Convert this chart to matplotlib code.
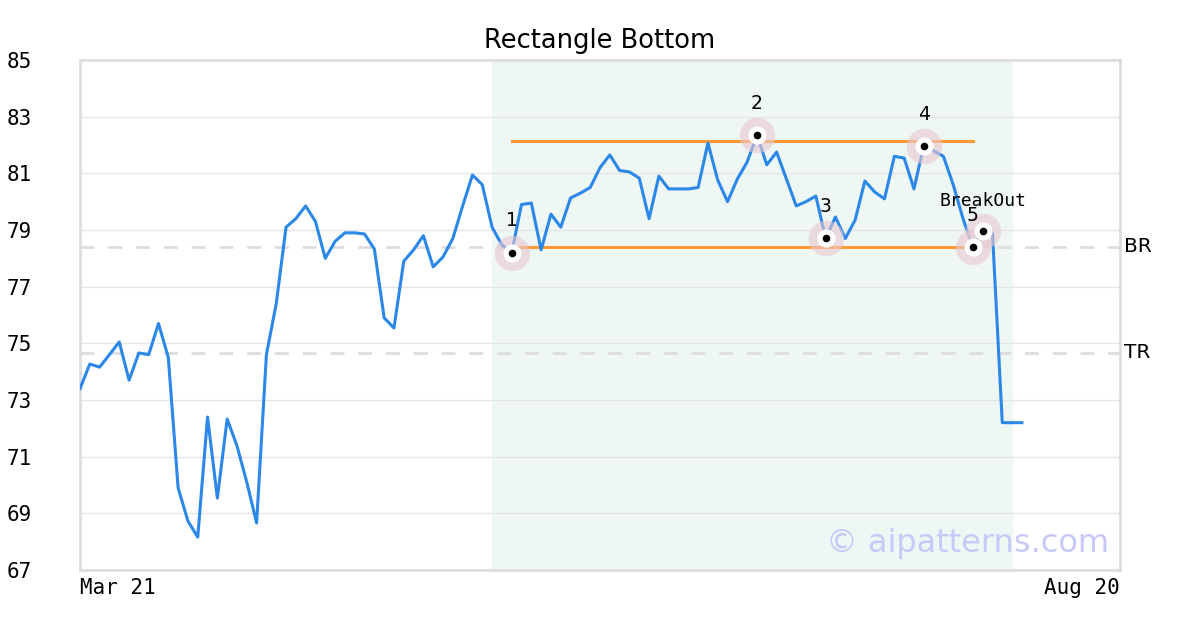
import matplotlib
matplotlib.use("Agg")
import matplotlib.pyplot as plt

values = [73.4, 74.27, 74.16, 74.6, 75.05, 73.7, 74.66, 74.6, 75.7, 74.5,
          69.9, 68.73, 68.16, 72.4, 69.54, 72.33, 71.38, 70.1, 68.66, 74.6,
          76.4, 79.1, 79.4, 79.85, 79.3, 78.0, 78.6, 78.9, 78.9, 78.86,
          78.33, 75.9, 75.54, 77.9, 78.3, 78.8, 77.7, 78.05, 78.7, 79.85,
          80.94, 80.6, 79.1, 78.47, 78.2, 79.9, 79.95, 78.3, 79.56, 79.1,
          80.13, 80.3, 80.5, 81.2, 81.65, 81.1, 81.05, 80.83, 79.4, 80.9,
          80.45, 80.45, 80.45, 80.5, 82.07, 80.76, 80.0, 80.8, 81.4, 82.35,
          81.3, 81.75, 80.8, 79.85, 80.0, 80.2, 78.7, 79.46, 78.7, 79.35,
          80.73, 80.34, 80.1, 81.6, 81.54, 80.45, 81.97, 81.8, 81.6, 80.6,
          79.4, 78.4, 78.97, 78.9, 72.2, 72.2, 72.2]

point_idx = [44, 69, 76, 86, 91]
point_labels = ["1", "2", "3", "4", "5"]
breakout_idx = 92
top_level = 82.14
bottom_level = 78.4
br_level = 78.4
tr_level = 74.66
shade_range = (42, 95)
x_tick_labels = ["Mar 21", "Aug 20"]
y_ticks = [67, 69, 71, 73, 75, 77, 79, 81, 83, 85]

fig = plt.figure(figsize=(12, 6.3), dpi=100)
ax = fig.add_axes([80/1200, 1-570/630, 1040/1200, 510/630])
xmax = 106
ax.set_xlim(0, xmax)
ax.set_ylim(67, 85)

ax.axvspan(shade_range[0], shade_range[1], color="#eef7f3", zorder=0)
for y in y_ticks:
    ax.axhline(y, color="#e6e6e6", lw=1, zorder=1)
ax.axhline(br_level, color="#dddddd", lw=2, ls=(0, (5, 5)), zorder=1)
ax.axhline(tr_level, color="#dddddd", lw=2, ls=(0, (5, 5)), zorder=1)

ax.plot([point_idx[0], point_idx[-1]], [top_level, top_level], color="#ff9933", lw=2.2, zorder=2)
ax.plot([point_idx[0], point_idx[-1]], [bottom_level, bottom_level], color="#ff9933", lw=2.2, zorder=2)

xs = list(range(len(values)))
ax.plot(xs, values, color="#2b87e8", lw=2.2, zorder=3)

mk = point_idx + [breakout_idx]
mv = [values[i] for i in mk]
ax.scatter(mk, mv, s=650, color="#e8c8d0", alpha=0.6, zorder=4, lw=0)
ax.scatter(mk, mv, s=170, color="white", zorder=5, lw=0)
ax.scatter(mk, mv, s=30, color="black", zorder=6, lw=0)

for i, lab in zip(point_idx, point_labels):
    ax.annotate(lab, (i, values[i]), xytext=(0, 16), textcoords="offset points",
                ha="center", va="bottom", fontsize=13.5, family="DejaVu Sans", zorder=7)
ax.annotate("BreakOut", (breakout_idx, values[breakout_idx]), xytext=(0, 15),
            textcoords="offset points", ha="center", va="bottom", fontsize=13,
            family="DejaVu Sans Mono", zorder=7)

ax.text(0.99, 0.022, "\u00a9 aipatterns.com", transform=ax.transAxes, ha="right",
        va="bottom", fontsize=23, color="#c8c8fa", zorder=8)

ax.text(1.004, (br_level - 67) / 18, "BR", transform=ax.transAxes, ha="left", va="center", fontsize=14.5)
ax.text(1.004, (tr_level - 67) / 18, "TR", transform=ax.transAxes, ha="left", va="center", fontsize=14.5)

ax.set_yticks(y_ticks)
ax.set_yticklabels([str(v) for v in y_ticks], family="DejaVu Sans Mono", fontsize=15)
ax.tick_params(axis="y", length=0, pad=53)
for lab in ax.get_yticklabels():
    lab.set_horizontalalignment("left")

ax.set_xticks([0, xmax])
ax.set_xticklabels(x_tick_labels, family="DejaVu Sans Mono", fontsize=15)
ax.tick_params(axis="x", length=0, pad=6)
xl = ax.get_xticklabels()
xl[0].set_horizontalalignment("left")
xl[1].set_horizontalalignment("right")

for s in ax.spines.values():
    s.set_color("#dddddd")
    s.set_linewidth(2)

ax.set_title("Rectangle Bottom", fontsize=18.5, pad=9)

fig.savefig("out.png", dpi=100)
